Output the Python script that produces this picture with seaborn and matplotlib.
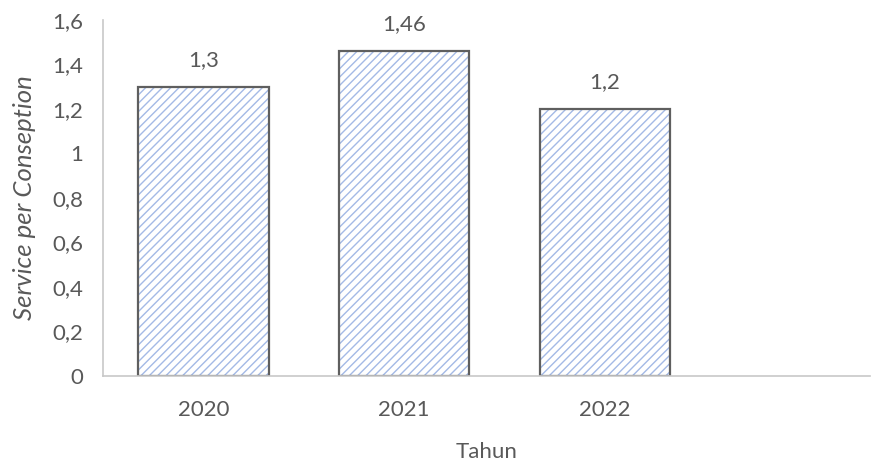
import matplotlib
matplotlib.use("Agg")
import matplotlib.pyplot as plt
import seaborn as sns
import pandas as pd

# data
years = ["2020", "2021", "2022"]
spc = [1.3, 1.46, 1.2]
value_labels = ["1,3", "1,46", "1,2"]
y_ticks = [0, 0.2, 0.4, 0.6, 0.8, 1.0, 1.2, 1.4, 1.6]
y_ticklabels = ["0", "0,2", "0,4", "0,6", "0,8", "1", "1,2", "1,4", "1,6"]

df = pd.DataFrame({"Tahun": years, "SPC": spc})

sns.set_style("white")
plt.rcParams["font.family"] = ["Lato", "DejaVu Sans"]
plt.rcParams["hatch.linewidth"] = 1.0

txt = "#595959"
fs = 16
fig = plt.figure(figsize=(8.91, 4.63), dpi=100)
ax = fig.add_axes([0.1156, 0.188, 0.8608, 0.769])

# hatched fill first, then the dark outline on top
sns.barplot(data=df, x="Tahun", y="SPC", order=years, width=0.65,
            color="white", edgecolor="#a4b9e6", linewidth=0, hatch="////",
            ax=ax)
sns.barplot(data=df, x="Tahun", y="SPC", order=years, width=0.65,
            fill=False, edgecolor="#5f5f5f", linewidth=1.6, ax=ax)

ax.set_xlim(-0.5, 3.32)
ax.set_ylim(0, 1.6)
ax.set_yticks(y_ticks)
ax.set_yticklabels(y_ticklabels)

for i, v in enumerate(spc):
    ax.text(i, v + 0.075, value_labels[i], ha="center", va="bottom",
            fontsize=fs, color=txt)

ax.tick_params(axis="both", length=0, labelsize=fs, colors=txt)
ax.tick_params(axis="x", pad=17)
ax.tick_params(axis="y", pad=14)

ax.set_xlabel("Tahun", fontsize=fs, color=txt, labelpad=16)
ax.set_ylabel("Service per Conseption", fontsize=18.5, color=txt,
              style="italic", labelpad=12)

sns.despine(ax=ax, top=True, right=True)
for s in ["left", "bottom"]:
    ax.spines[s].set_color("#c8c8c8")
    ax.spines[s].set_linewidth(1.2)

fig.savefig("out.png", dpi=100)
